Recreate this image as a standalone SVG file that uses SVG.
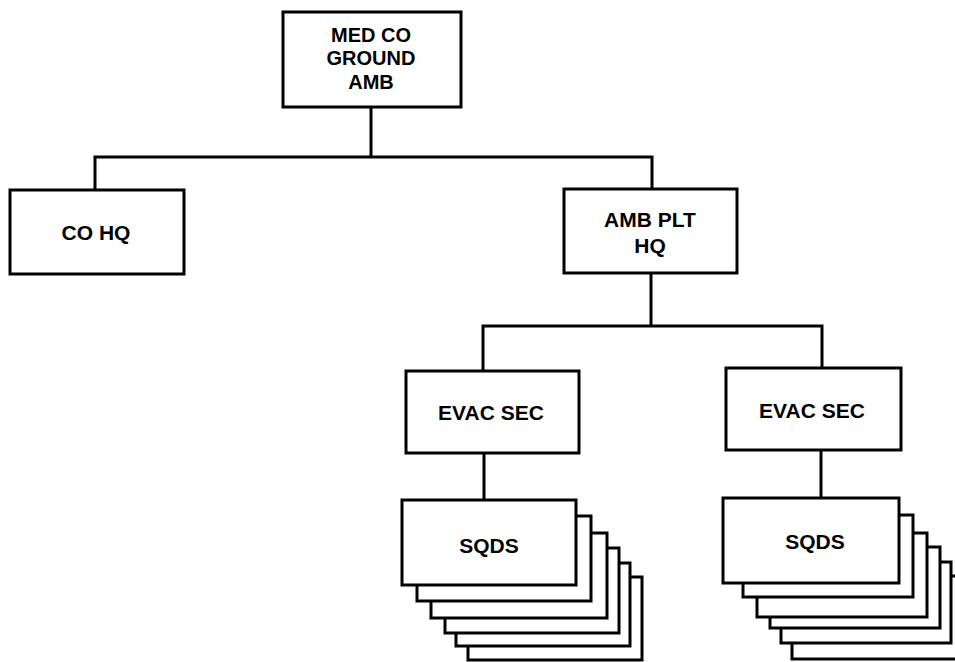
<svg xmlns="http://www.w3.org/2000/svg" width="955" height="662" viewBox="0 0 955 662">
<style>
.b{fill:#fff;stroke:#000;stroke-width:3}
.t{font-family:"Liberation Sans",Arial,sans-serif;font-weight:bold;font-size:21px;text-anchor:middle;fill:#000}
.c{stroke:#000;stroke-width:3;fill:none}
</style>
<rect width="955" height="662" fill="#fff"/>
<g id="connectors">
<path class="c" d="M371 107V157M95 190V157H652V189M651 273V326M483 371V326H822V368M484 453V500M821 450V498"/>
</g>
<g id="medco">
<rect class="b" x="283" y="12" width="178" height="95"/>
<text class="t" style="font-size:20px" x="371" y="42">MED CO</text>
<text class="t" style="font-size:20px" x="371" y="65">GROUND</text>
<text class="t" style="font-size:20px" x="371" y="89">AMB</text>
</g>
<g id="cohq">
<rect class="b" x="10" y="190" width="174" height="84"/>
<text class="t" x="96" y="240">CO HQ</text>
</g>
<g id="ambplthq">
<rect class="b" x="564" y="189" width="173" height="84"/>
<text class="t" x="650" y="227">AMB PLT</text>
<text class="t" x="650" y="253">HQ</text>
</g>
<g id="evac1">
<rect class="b" x="406" y="371" width="173" height="82"/>
<text class="t" x="491" y="420">EVAC SEC</text>
</g>
<g id="evac2">
<rect class="b" x="726" y="368" width="175" height="82"/>
<text class="t" x="812" y="418">EVAC SEC</text>
</g>
<g id="sqds1">
<rect class="b" x="468" y="577" width="174" height="83"/>
<rect class="b" x="456" y="563" width="174" height="83"/>
<rect class="b" x="445" y="548" width="174" height="85"/>
<rect class="b" x="431" y="533" width="176" height="85"/>
<rect class="b" x="417" y="516" width="174" height="85"/>
<rect class="b" x="402" y="500" width="174" height="85"/>
<text class="t" x="489" y="553">SQDS</text>
</g>
<g id="sqds2">
<rect class="b" x="792" y="576" width="170" height="83"/>
<rect class="b" x="781" y="562" width="170" height="81"/>
<rect class="b" x="770" y="547" width="170" height="81"/>
<rect class="b" x="757" y="533" width="170" height="84"/>
<rect class="b" x="743" y="515" width="170" height="82"/>
<rect class="b" x="723" y="498" width="176" height="85"/>
<text class="t" x="815" y="549">SQDS</text>
</g>
</svg>
